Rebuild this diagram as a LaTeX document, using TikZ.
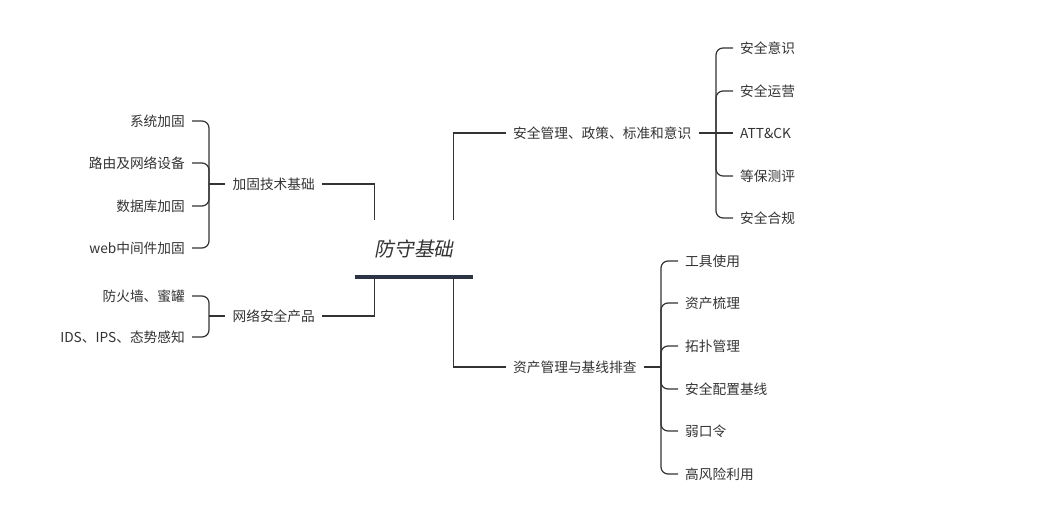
\documentclass[tikz,border=0pt]{standalone}
\usepackage{fontspec}
\setmainfont{Noto Sans CJK SC}
\newfontfamily\rootfont[FakeSlant=0.2]{Noto Sans CJK SC}
\usepackage{tikz}
\definecolor{txt}{HTML}{333333}
\definecolor{barcol}{HTML}{2B3444}

\begin{document}
\begin{tikzpicture}[x=1pt,y=-1pt,
  every node/.style={text=txt, font=\fontsize{13.7}{16}\selectfont, inner xsep=7pt, inner ysep=2pt},
  link/.style={draw=txt, line width=1.2pt, rounded corners=7pt},
  trunk/.style={draw=txt, line width=1.2pt}]
 \useasboundingbox (0,0) rectangle (1045,504);

 % root
 \node[minimum width=118pt, minimum height=57pt, font=\rootfont\fontsize{19.7}{22}\selectfont] (root) at (414,248.5) {防守基础};
 \draw[barcol, line width=4.5pt] (root.south west) -- (root.south east);

 % branches
 \node[anchor=east] (jg) at (322,184) {加固技术基础};
 \node[anchor=east] (wl) at (322,316) {网络安全产品};
 \node[anchor=west] (aq) at (506,133) {安全管理、政策、标准和意识};
 \node[anchor=west] (zc) at (506,367) {资产管理与基线排查};

 \draw[trunk] (jg.east) -| ([xshift=20pt]root.north west);
 \draw[trunk] ([xshift=20pt]root.south west) |- (wl.east);
 \draw[trunk] ([xshift=-20pt]root.north east) |- (aq.west);
 \draw[trunk] ([xshift=-20pt]root.south east) |- (zc.west);

 % leaves left
 \node[anchor=east] (jg1) at (192,121) {系统加固};
 \node[anchor=east] (jg2) at (192,163) {路由及网络设备};
 \node[anchor=east] (jg3) at (192,206) {数据库加固};
 \node[anchor=east] (jg4) at (192,248) {web中间件加固};
 \coordinate (jgb) at (209,184);
 \draw[link] (jgb) -- (jg.west);
 \draw[link] (jgb) |- (jg1.east);
 \draw[link] (jgb) |- (jg2.east);
 \draw[link] (jgb) |- (jg3.east);
 \draw[link] (jgb) |- (jg4.east);

 \node[anchor=east] (wl1) at (192,296) {防火墙、蜜罐};
 \node[anchor=east] (wl2) at (192,337) {IDS、IPS、态势感知};
 \coordinate (wlb) at (209,316);
 \draw[link] (wlb) -- (wl.west);
 \draw[link] (wlb) |- (wl1.east);
 \draw[link] (wlb) |- (wl2.east);

 % leaves right
 \node[anchor=west] (aq1) at (733,48) {安全意识};
 \node[anchor=west] (aq2) at (733,91) {安全运营};
 \node[anchor=west] (aq3) at (733,133) {ATT\&CK};
 \node[anchor=west] (aq4) at (733,176) {等保测评};
 \node[anchor=west] (aq5) at (733,218) {安全合规};
 \coordinate (aqb) at (716,133);
 \draw[link] (aq.east) -- (aqb);
 \draw[link] (aqb) |- (aq1.west);
 \draw[link] (aqb) |- (aq2.west);
 \draw[link] (aqb) -- (aq3.west);
 \draw[link] (aqb) |- (aq4.west);
 \draw[link] (aqb) |- (aq5.west);

 \node[anchor=west] (zc1) at (678,261) {工具使用};
 \node[anchor=west] (zc2) at (678,303) {资产梳理};
 \node[anchor=west] (zc3) at (678,346) {拓扑管理};
 \node[anchor=west] (zc4) at (678,389) {安全配置基线};
 \node[anchor=west] (zc5) at (678,431) {弱口令};
 \node[anchor=west] (zc6) at (678,474) {高风险利用};
 \coordinate (zcb) at (661,367);
 \draw[link] (zc.east) -- (zcb);
 \draw[link] (zcb) |- (zc1.west);
 \draw[link] (zcb) |- (zc2.west);
 \draw[link] (zcb) |- (zc3.west);
 \draw[link] (zcb) |- (zc4.west);
 \draw[link] (zcb) |- (zc5.west);
 \draw[link] (zcb) |- (zc6.west);
\end{tikzpicture}
\end{document}
